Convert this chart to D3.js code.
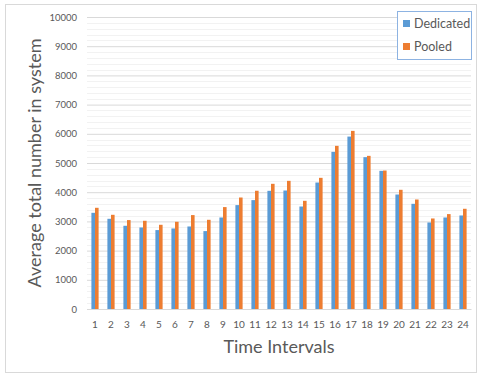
<!DOCTYPE html>
<html>
<head>
<meta charset="utf-8">
<script src="https://cdn.jsdelivr.net/npm/d3@7"></script>
<style>
  body { margin: 0; background: #fff; }
  svg { display: block; font-family: Lato, "Open Sans", sans-serif; }
</style>
</head>
<body>
<div id="chart"></div>
<script>
let intervals = d3.range(1, 25).map(String);
let dedicated = [3294, 3089, 2850, 2792, 2703, 2758, 2826, 2668, 3134, 3558, 3729, 4047,
                 4058, 3510, 4331, 5381, 5905, 5200, 4731, 3921, 3602, 2963, 3134, 3203];
let pooled = [3466, 3226, 3045, 3021, 2884, 2987, 3216, 3055, 3490, 3818, 4050, 4287,
              4389, 3705, 4492, 5587, 6100, 5245, 4742, 4082, 3750, 3100, 3250, 3432];
let seriesNames = ['Dedicated', 'Pooled'];
let colors = ['#5b9bd5', '#ed7d31'];
let yTicks = d3.range(0, 10001, 1000);

let W = 478, H = 375;
let margin = { top: 17, right: 7, bottom: 66, left: 87 };
let svg = d3.select('#chart').append('svg')
    .attr('width', W)
    .attr('height', H);

// chart frame
svg.append('rect')
    .attr('x', 5.5).attr('y', 4.5)
    .attr('width', 471).attr('height', 368)
    .attr('fill', '#fff')
    .attr('stroke', '#d9d9d9');

let x = d3.scaleBand()
    .domain(intervals)
    .range([margin.left, W - margin.right]);
let xInner = d3.scaleBand()
    .domain(seriesNames)
    .range([0, 7.2])
    .padding(0);
let y = d3.scaleLinear()
    .domain([0, 10000])
    .range([H - margin.bottom, margin.top]);

// minor gridlines
svg.append('g').selectAll('line')
    .data(d3.range(200, 10001, 200).filter(v => v % 1000 !== 0))
    .join('line')
    .attr('x1', margin.left).attr('x2', W - margin.right)
    .attr('y1', d => Math.round(y(d)) + 0.5).attr('y2', d => Math.round(y(d)) + 0.5)
    .attr('stroke', '#f2f2f2');

// major gridlines + labels
let yAxis = svg.append('g')
    .attr('transform', `translate(${margin.left},0)`)
    .call(d3.axisLeft(y).tickValues(yTicks).tickFormat(d3.format('d'))
        .tickSize(-(W - margin.left - margin.right)).tickPadding(10));
yAxis.select('.domain').remove();
yAxis.selectAll('.tick line').attr('stroke', '#d9d9d9');
yAxis.selectAll('.tick text')
    .attr('fill', '#595959')
    .style('font-size', '9.5px')
    .style('font-family', 'Lato, sans-serif');

// bars
let groups = svg.append('g').selectAll('g')
    .data(intervals)
    .join('g')
    .attr('transform', d => `translate(${x(d) + x.bandwidth() / 2 - 3.6},0)`);
groups.selectAll('rect')
    .data((d, i) => [dedicated[i], pooled[i]].map((v, k) => ({ key: seriesNames[k], value: v, k: k })))
    .join('rect')
    .attr('x', d => xInner(d.key))
    .attr('width', xInner.bandwidth())
    .attr('y', d => y(d.value))
    .attr('height', d => y(0) - y(d.value))
    .attr('fill', d => colors[d.k]);

// x axis
let xAxis = svg.append('g')
    .attr('transform', `translate(0,${y(0)})`)
    .call(d3.axisBottom(x).tickSize(0).tickPadding(12));
xAxis.select('.domain').attr('stroke', '#d9d9d9');
xAxis.selectAll('.tick text')
    .attr('fill', '#595959')
    .style('font-size', '10px')
    .style('font-family', 'Lato, sans-serif');

// axis titles
svg.append('text')
    .attr('x', (margin.left + W - margin.right) / 2)
    .attr('y', 353)
    .attr('text-anchor', 'middle')
    .attr('fill', '#595959')
    .style('font-size', '18px')
    .text('Time Intervals');

svg.append('text')
    .attr('transform', `translate(41,${(margin.top + H - margin.bottom) / 2}) rotate(-90)`)
    .attr('text-anchor', 'middle')
    .attr('fill', '#595959')
    .style('font-size', '18px')
    .text('Average total number in system');

// legend
let legend = svg.append('g');
legend.append('rect')
    .attr('x', 397.5).attr('y', 11.5)
    .attr('width', 74).attr('height', 48)
    .attr('fill', '#fff')
    .attr('stroke', '#8db3e2');
let items = legend.selectAll('g.item')
    .data(seriesNames)
    .join('g')
    .attr('class', 'item')
    .attr('transform', (d, i) => `translate(403,${20 + i * 23})`);
items.append('rect')
    .attr('width', 7).attr('height', 7)
    .attr('fill', (d, i) => colors[i]);
items.append('text')
    .attr('x', 11).attr('y', 8)
    .attr('fill', '#595959')
    .style('font-size', '12.5px')
    .text(d => d);
</script>
</body>
</html>
